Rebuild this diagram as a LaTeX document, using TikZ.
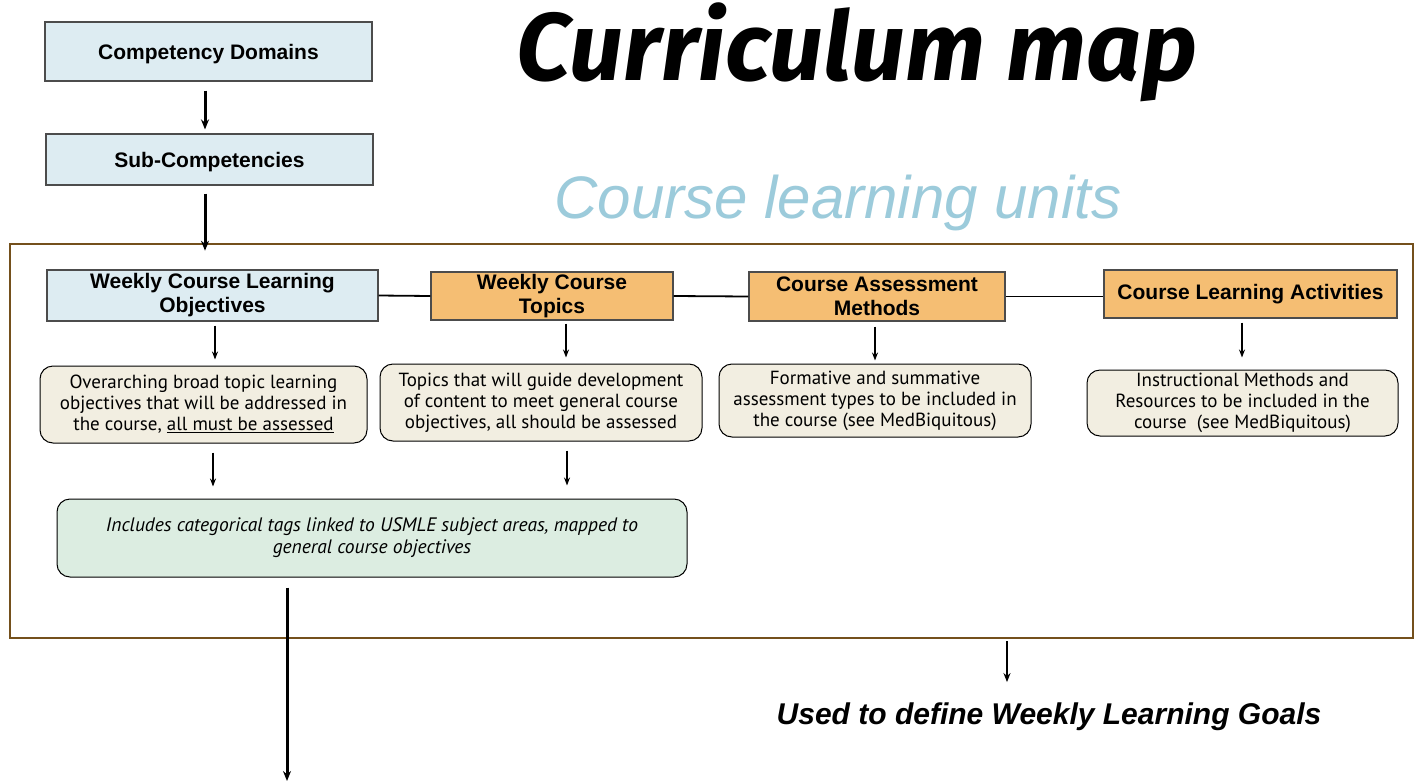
\documentclass[tikz,border=0pt]{standalone}
\usepackage{fontspec}
\setmainfont{Liberation Sans}
\newfontfamily\hum{PT Sans}
\newfontfamily\titlefont{Fira Sans}
\usetikzlibrary{arrows.meta,calc}
\definecolor{boxblue}{HTML}{DDECF2}
\definecolor{boxorange}{HTML}{F5BE73}
\definecolor{boxbeige}{HTML}{F2EEE1}
\definecolor{boxgreen}{HTML}{DCEDE1}
\definecolor{framebrown}{HTML}{74501C}
\definecolor{unitblue}{HTML}{9CCBDB}
\begin{document}
\begin{tikzpicture}[x=1pt,y=-1pt,
  sq/.style={draw=black!70, line width=1.2pt, inner sep=0pt, align=center,
    font=\fontsize{21}{24}\selectfont\bfseries},
  bluebox/.style={sq, fill=boxblue},
  orangebox/.style={sq, fill=boxorange},
  rnd/.style={draw=black, line width=1pt, rounded corners=13pt, fill=boxbeige,
    inner sep=0pt, align=center, font=\hum\fontsize{19}{21}\selectfont},
  greenbox/.style={rnd, fill=boxgreen, font=\hum\itshape\fontsize{19.5}{22}\selectfont},
  thinarr/.style={-{Stealth[length=8pt,width=6pt]}, line width=1.4pt},
  thickarr/.style={-{Stealth[length=10pt,width=8pt]}, line width=3pt},
  link/.style={line width=1.8pt}
]
\useasboundingbox (0,0) rectangle (1417,782);
\fill[white] (0,0) rectangle (1417,782);

% titles
\node[anchor=base, inner sep=0pt, font=\titlefont\bfseries\itshape\fontsize{96}{96}\selectfont] (title) at (857,80) {Curriculum map};
\node[anchor=base, inner sep=0pt, text=unitblue, font=\itshape\fontsize{60}{60}\selectfont] (units) at (838,218) {Course learning units};

% top boxes
\node[bluebox, minimum width=327pt, minimum height=59pt, text height=21pt, text depth=4.5pt] (cd) at (208.5,51.5) {Competency Domains};
\node[bluebox, minimum width=327pt, minimum height=51pt, text height=21pt, text depth=4.5pt] (sc) at (209.5,159.5) {Sub-Competencies};

% frame
\node[draw=framebrown, line width=2.6pt, minimum width=1403pt, minimum height=394pt, inner sep=0pt] (frame) at (711.5,441) {};

% header boxes
\node[bluebox, minimum width=331pt, minimum height=51pt] (wclo) at (212.5,295.5) {Weekly Course Learning\\Objectives};
\node[orangebox, minimum width=242pt, minimum height=48pt] (wct) at (552,296) {Weekly Course\\Topics};
\node[orangebox, minimum width=256pt, minimum height=49pt] (cam) at (877,296.5) {Course Assessment\\Methods};
\node[orangebox, minimum width=293pt, minimum height=48pt] (cla) at (1250.5,294) {Course Learning Activities};

% description boxes
\node[rnd, minimum width=327pt, minimum height=77pt] (b1) at (203.5,404.5)
  {Overarching broad topic learning\\objectives that will be addressed in\\the course, \underline{all must be assessed}};
\node[rnd, minimum width=322pt, minimum height=77pt] (b2) at (541,402.5)
  {Topics that will guide development\\of content to meet general course\\objectives, all should be assessed};
\node[rnd, minimum width=312pt, minimum height=73pt] (b3) at (875,400.5)
  {Formative and summative\\assessment types to be included in\\the course (see MedBiquitous)};
\node[rnd, minimum width=311pt, minimum height=66pt] (b4) at (1242.5,403)
  {Instructional Methods and\\Resources to be included in the\\course\ \ (see MedBiquitous)};

\node[greenbox, minimum width=630pt, minimum height=78pt] (green) at (372,538)
  {Includes categorical tags linked to USMLE subject areas, mapped to\\general course objectives};

% goal text
\node[anchor=base, inner sep=0pt, font=\bfseries\itshape\fontsize{30}{30}\selectfont] (goal) at (1049,724) {Used to define Weekly Learning Goals};

\coordinate (bottomend) at (287,781);

% connectors
\draw[thickarr] ($(cd.south)+(-3.5,9)$) -- ($(sc.north)+(-4.5,-4)$);
\draw[thickarr] ($(sc.south)+(-4.5,8)$) -- ($(sc.south |- frame.north)+(-4.5,8)$);

\draw[link] (wclo.east) -- (wct.west);
\draw[link] (wct.east) -- (cam.west);
\draw[link] (cam.east) -- (cla.west |- cam.east);

\draw[thinarr] ($(wclo.south)+(2.5,4)$) -- ($(wclo.south |- b1.north)+(2.5,-6)$);
\draw[thinarr] ($(wct.south)+(14,3)$) -- ($(wct.south |- b2.north)+(14,-6)$);
\draw[thinarr] ($(cam.south)+(-2,5)$) -- ($(cam.south |- b3.north)+(-2,-3)$);
\draw[thinarr] ($(cla.south)+(-8.5,4)$) -- ($(cla.south |- b4.north)+(-8.5,-12)$);

\draw[thinarr] ($(b1.south)+(9.5,9)$) -- ($(b1.south |- green.north)+(9.5,-12)$);
\draw[thinarr] ($(b2.south)+(26,9)$) -- ($(b2.south |- green.north)+(26,-13)$);

\draw[thickarr] (green.south -| bottomend) ++(0,10) -- (bottomend);
\draw[line width=2pt, -{Stealth[length=9pt,width=7pt]}] ($(frame.south)+(295.5,2)$) -- ($(goal.north)+(-42,-20)$);
\end{tikzpicture}
\end{document}
